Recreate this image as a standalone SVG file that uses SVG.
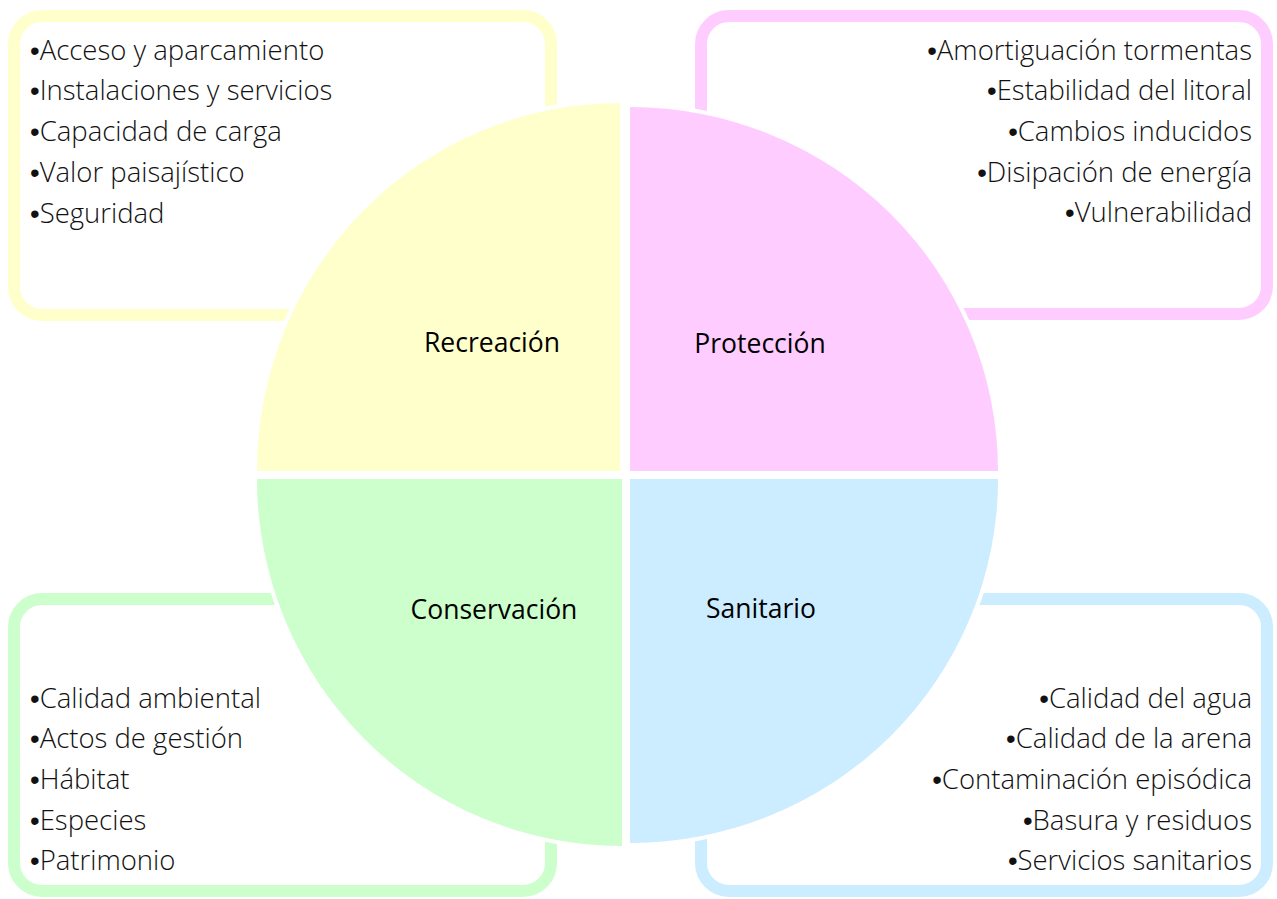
<svg xmlns="http://www.w3.org/2000/svg" width="1277" height="899" viewBox="0 0 1277 899">
<style>
.box{fill:#ffffff;stroke-width:12}
.sec{stroke:#ffffff;stroke-width:8;paint-order:stroke}
.item{font-family:"Open Sans","Noto Sans","Liberation Sans",sans-serif;font-weight:300;font-size:27.5px;fill:#111111}
.bu{font-family:"Liberation Sans",sans-serif;font-weight:400}
.r{text-anchor:end}
.lbl{font-family:"Open Sans","Noto Sans","Liberation Sans",sans-serif;font-weight:400;font-size:26.5px;fill:#000;text-anchor:middle}
</style>
<rect width="1277" height="899" fill="#ffffff"/>
<g id="recreacion">
<rect class="box" x="14" y="16" width="537" height="299" rx="28" style="stroke:#FFFFCC"/>
<text class="item" x="30" y="60"><tspan class="bu">•</tspan>Acceso y aparcamiento</text>
<text class="item" x="30" y="100"><tspan class="bu">•</tspan>Instalaciones y servicios</text>
<text class="item" x="30" y="141"><tspan class="bu">•</tspan>Capacidad de carga</text>
<text class="item" x="30" y="182"><tspan class="bu">•</tspan>Valor paisajístico</text>
<text class="item" x="30" y="223"><tspan class="bu">•</tspan>Seguridad</text>
<path class="sec" d="M620,471 L257,471 A363,368 0 0 1 620,103 Z" style="fill:#FFFFCC"/>
<text class="lbl" x="492" y="352">Recreación</text>
</g>
<g id="proteccion">
<rect class="box" x="701" y="16" width="566" height="298" rx="28" style="stroke:#FFCCFF"/>
<text class="item r" x="1252" y="60"><tspan class="bu">•</tspan>Amortiguación tormentas</text>
<text class="item r" x="1252" y="100"><tspan class="bu">•</tspan>Estabilidad del litoral</text>
<text class="item r" x="1252" y="141"><tspan class="bu">•</tspan>Cambios inducidos</text>
<text class="item r" x="1252" y="182"><tspan class="bu">•</tspan>Disipación de energía</text>
<text class="item r" x="1252" y="222"><tspan class="bu">•</tspan>Vulnerabilidad</text>
<path class="sec" d="M630,471 L630,107 A368,364 0 0 1 998,471 Z" style="fill:#FFCCFF"/>
<text class="lbl" x="760" y="353">Protección</text>
</g>
<g id="conservacion">
<rect class="box" x="14" y="599" width="537" height="292" rx="28" style="stroke:#CCFFCC"/>
<text class="item" x="30" y="708"><tspan class="bu">•</tspan>Calidad ambiental</text>
<text class="item" x="30" y="748"><tspan class="bu">•</tspan>Actos de gestión</text>
<text class="item" x="30" y="789"><tspan class="bu">•</tspan>Hábitat</text>
<text class="item" x="30" y="830"><tspan class="bu">•</tspan>Especies</text>
<text class="item" x="30" y="870"><tspan class="bu">•</tspan>Patrimonio</text>
<path class="sec" d="M622,479 L622,846 A365,367 0 0 1 257,479 Z" style="fill:#CCFFCC"/>
<text class="lbl" x="494" y="619">Conservación</text>
</g>
<g id="sanitario">
<rect class="box" x="701" y="599" width="566" height="292" rx="28" style="stroke:#CCECFF"/>
<text class="item r" x="1252" y="708"><tspan class="bu">•</tspan>Calidad del agua</text>
<text class="item r" x="1252" y="748"><tspan class="bu">•</tspan>Calidad de la arena</text>
<text class="item r" x="1252" y="789"><tspan class="bu">•</tspan>Contaminación episódica</text>
<text class="item r" x="1252" y="830"><tspan class="bu">•</tspan>Basura y residuos</text>
<text class="item r" x="1252" y="870"><tspan class="bu">•</tspan>Servicios sanitarios</text>
<path class="sec" d="M630,479 L998,479 A368,364 0 0 1 630,843 Z" style="fill:#CCECFF"/>
<text class="lbl" x="761" y="618">Sanitario</text>
</g>
<g id="connectors"/>
</svg>
